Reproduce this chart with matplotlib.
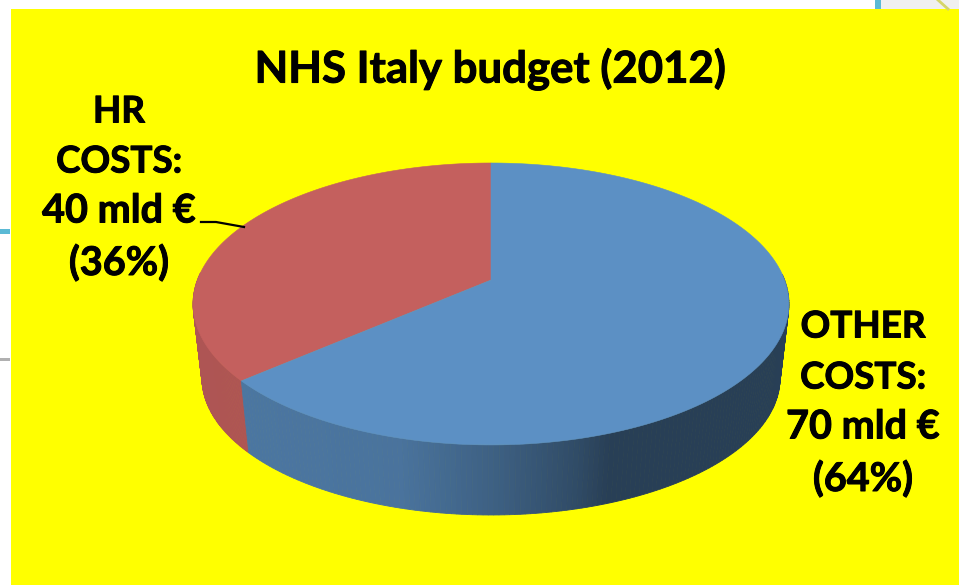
import numpy as np
import matplotlib
matplotlib.use('Agg')
import matplotlib.pyplot as plt
import matplotlib.patheffects as pe
from matplotlib.patches import Rectangle, Polygon

title = 'NHS Italy budget (2012)'
values = [40, 70]
names = ['HR\nCOSTS:', 'OTHER\nCOSTS:']
amounts = ['40 mld €', '70 mld €']
shares = ['(36%)', '(64%)']
top_colors = ['#C4605E', '#5C90C4']

plt.rcParams['font.family'] = ['Lato', 'DejaVu Sans']

# perspective of the pie in pixel coordinates
CX, CY = 491, 280
B, A, K = 293.6, 136.9, 0.17


def project(t, scale=1.0, cy=CY):
    x, y = np.cos(t), np.sin(t)
    d = 1 + K * y
    return CX + scale * B * x / d, cy - scale * A * y / d


def side_color(x, base):
    stops = [193, 245, 400, 500, 580, 610, 789]
    f = np.interp(x, stops, [0.82, 0.82, 0.80, 0.66, 0.52, 0.44, 0.44])
    return tuple(c * f for c in base)


fig = plt.figure(figsize=(9.59, 5.85), dpi=100)
ax = fig.add_axes([0, 0, 1, 1])
ax.set_xlim(0, 959)
ax.set_ylim(585, 0)
ax.axis('off')

# bits of the slide behind the yellow panel
ax.add_patch(Rectangle((0, 229), 10, 5, color='#5BBAD5', lw=0))
ax.add_patch(Rectangle((0, 358), 10, 3, color='#B0B0B0', lw=0))
ax.add_patch(Rectangle((875, 0), 6, 9, color='#5BBAD5', lw=0))
ax.add_patch(Rectangle((881, 0), 78, 9, color='#F0F0F0', lw=0))
ax.plot([938, 948], [0, 9], color='#D5D56A', lw=2)
ax.add_patch(Rectangle((11, 9), 948, 576, color='#FFFF00', lw=0))

# slice angles: starts at 12 o'clock, red goes counter clockwise
fr = np.array(values) / sum(values)
start = np.pi / 2
splits = [start, start + 2 * np.pi * fr[0], start + 2 * np.pi]

# side wall, back to front
for i in range(2):
    ts = np.linspace(splits[i], splits[i + 1], 260)
    for t0, t1 in zip(ts[:-1], ts[1:]):
        if np.sin((t0 + t1) / 2) > 0.05:
            continue
        x0, y0 = project(t0)
        x1, y1 = project(t1)
        x2, y2 = project(t1, 0.97, 355)
        x3, y3 = project(t0, 0.97, 355)
        base = matplotlib.colors.to_rgb(top_colors[i])
        c = side_color((x0 + x1) / 2, base)
        if i == 0:
            c = tuple(v * 0.89 for v in base)
        ax.add_patch(Polygon([(x0, y0), (x1, y1), (x2, y2), (x3, y3)],
                             facecolor=c, edgecolor=c, lw=0.6))

# top of the slices
for i in range(2):
    ts = np.linspace(splits[i], splits[i + 1], 200)
    px, py = project(ts)
    ax.add_patch(Polygon(np.r_[[[CX, CY]], np.c_[px, py]],
                         facecolor=top_colors[i], edgecolor=top_colors[i], lw=0.4))

ax.plot([201, 216, 244], [222, 222, 227], color='black', lw=1.6)

# Lato bold is a bit lighter than the original, thicken it
bold = [pe.withStroke(linewidth=0.7, foreground='black')]

ax.text(490, 69, title, fontsize=31.5, fontweight='bold', ha='center', va='center', path_effects=bold)

left_lines = names[0].split('\n') + [amounts[0], shares[0]]
right_lines = names[1].split('\n') + [amounts[1], shares[1]]
sizes = [26.5, 26.5, 28.5, 28.5]
for s, y, fs in zip(left_lines, [112, 162, 211, 263], sizes):
    ax.text(119, y, s, fontsize=fs, fontweight='bold', ha='center', va='center', path_effects=bold)
for s, y, fs in zip(right_lines, [327, 378, 427, 479], sizes):
    ax.text(863, y, s, fontsize=fs, fontweight='bold', ha='center', va='center', path_effects=bold)

fig.savefig('out.png', dpi=100)
